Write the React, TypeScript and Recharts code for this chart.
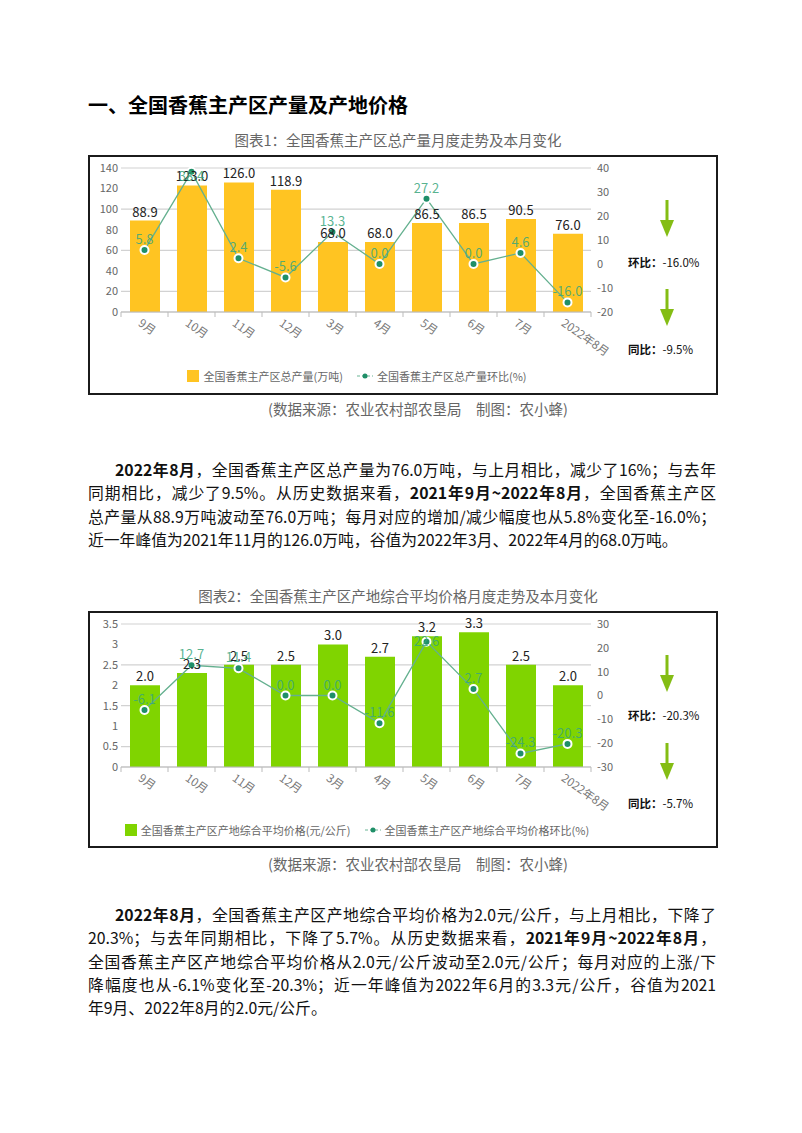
import React from "react";
import {
  ComposedChart,
  Bar,
  Line,
  XAxis,
  YAxis,
  CartesianGrid,
  LabelList,
  Legend,
} from "recharts";

// 月份（2021年9月 ~ 2022年8月，缺1、2月）
const months = ["9月", "10月", "11月", "12月", "3月", "4月", "5月", "6月", "7月", "2022年8月"];

// 图表1：总产量（万吨）与环比（%）
const outputVolume = [88.9, 123.0, 126.0, 118.9, 68.0, 68.0, 86.5, 86.5, 90.5, 76.0];
const outputMoM = [5.8, 38.4, 2.4, -5.6, 13.3, 0.0, 27.2, 0.0, 4.6, -16.0];
const outputTicksLeft = [0, 20, 40, 60, 80, 100, 120, 140];
const outputTicksRight = [-20, -10, 0, 10, 20, 30, 40];

// 图表2：产地综合平均价格（元/公斤）与环比（%）
const priceValue = [2.0, 2.3, 2.5, 2.5, 3.0, 2.7, 3.2, 3.3, 2.5, 2.0];
const priceMoM = [-6.1, 12.7, 11.4, 0.0, 0.0, -11.6, 22.6, 2.7, -24.3, -20.3];
const priceTicksLeft = [0, 0.5, 1, 1.5, 2, 2.5, 3, 3.5];
const priceTicksRight = [-30, -20, -10, 0, 10, 20, 30];

const FONT = '"Noto Sans CJK SC", "Noto Sans", sans-serif';
const CHART_W = 540;
const MARGIN = { top: 13, right: 5, left: 3, bottom: 3 };
const LEFT_AXIS_W = 30;
const RIGHT_AXIS_W = 32;
const HALF_BAND =
  (CHART_W - MARGIN.left - MARGIN.right - LEFT_AXIS_W - RIGHT_AXIS_W) / months.length / 2;

const MonthTick = (props: any) => {
  const { x, y, payload, index } = props;
  const last = index === months.length - 1;
  return (
    <g>
      <line x1={x - HALF_BAND} y1={y} x2={x - HALF_BAND} y2={y + 5} stroke="#bbb" />
      {last && <line x1={x + HALF_BAND} y1={y} x2={x + HALF_BAND} y2={y + 5} stroke="#bbb" />}
      <g transform={`translate(${x - 7},${y + 13}) rotate(35)`}>
        <text x={0} y={0} textAnchor="start" fontSize={11.5} fill="#777" fontFamily={FONT}>
          {payload.value}
        </text>
      </g>
    </g>
  );
};

// 折线标签：放在点上方，靠近顶部时下压以免被裁切
const makeRateLabel = (minY: number) => (props: any) => {
  const { x, y, value } = props;
  const by = Math.max(y - 6, minY);
  return (
    <text
      x={x}
      y={by}
      textAnchor="middle"
      fill="#3aa67c"
      fillOpacity={0.85}
      fontSize={13}
      fontFamily={FONT}
    >
      {Number(value).toFixed(1)}
    </text>
  );
};

const LegendContent = (props: any) => {
  const items = props.payload || [];
  return (
    <div
      style={{
        display: "flex",
        justifyContent: "center",
        alignItems: "center",
        height: 16,
        fontSize: 11,
        color: "#666",
        fontFamily: FONT,
      }}
    >
      {items.map((it: any, i: number) => (
        <div key={i} style={{ display: "flex", alignItems: "center", marginLeft: i ? 14 : 0 }}>
          {it.type === "rect" ? (
            <span style={{ width: 12, height: 12, background: it.color, marginRight: 4 }} />
          ) : (
            <svg width={16} height={10} style={{ marginRight: 4 }}>
              <line x1={0} y1={5} x2={16} y2={5} stroke="#6db595" strokeWidth={1.2} strokeDasharray="3 2" />
              <circle cx={8} cy={5} r={2.5} fill="#1f8f68" />
            </svg>
          )}
          <span style={{ lineHeight: "16px" }}>{it.value}</span>
        </div>
      ))}
    </div>
  );
};

interface ComboProps {
  bars: number[];
  rates: number[];
  barName: string;
  rateName: string;
  barColor: string;
  leftTicks: number[];
  rightTicks: number[];
  height: number;
  xHeight: number;
  labelMinY: number;
}

function ComboChart({
  bars,
  rates,
  barName,
  rateName,
  barColor,
  leftTicks,
  rightTicks,
  height,
  xHeight,
  labelMinY,
}: ComboProps) {
  const data = months.map((m, i) => ({ month: m, bar: bars[i], rate: rates[i] }));
  return (
    <ComposedChart width={CHART_W} height={height} data={data} margin={MARGIN}>
      <CartesianGrid yAxisId="left" vertical={false} stroke="#d2d2d2" strokeWidth={1.2} />
      <XAxis
        dataKey="month"
        interval={0}
        height={xHeight}
        tickSize={0}
        tickMargin={0}
        tickLine={false}
        axisLine={{ stroke: "#bbb" }}
        tick={<MonthTick />}
      />
      <YAxis
        yAxisId="left"
        width={LEFT_AXIS_W}
        domain={[leftTicks[0], leftTicks[leftTicks.length - 1]]}
        ticks={leftTicks}
        axisLine={false}
        tickLine={false}
        tickSize={0}
        tickMargin={3}
        tick={{ fill: "#666", fontSize: 11, fontFamily: FONT }}
      />
      <YAxis
        yAxisId="right"
        orientation="right"
        width={RIGHT_AXIS_W}
        domain={[rightTicks[0], rightTicks[rightTicks.length - 1]]}
        ticks={rightTicks}
        axisLine={false}
        tickLine={false}
        tickSize={0}
        tickMargin={6}
        tick={{ fill: "#666", fontSize: 11, fontFamily: FONT, textAnchor: "start" }}
      />
      <Legend verticalAlign="bottom" content={<LegendContent />} />
      <Bar
        yAxisId="left"
        dataKey="bar"
        name={barName}
        fill={barColor}
        barSize={30}
        legendType="rect"
        isAnimationActive={false}
      >
        <LabelList
          dataKey="bar"
          position="top"
          offset={4}
          fill="#222"
          fontSize={13}
          fontFamily={FONT}
          formatter={(v: any) => Number(v).toFixed(1)}
        />
      </Bar>
      <Line
        yAxisId="right"
        dataKey="rate"
        name={rateName}
        type="linear"
        stroke="#64b08f"
        strokeWidth={1.3}
        dot={{ r: 4, fill: "#1f8f68", stroke: "#fff", strokeWidth: 2 }}
        legendType="line"
        isAnimationActive={false}
      >
        <LabelList dataKey="rate" content={makeRateLabel(labelMinY)} />
      </Line>
    </ComposedChart>
  );
}

const Arrow = ({ left, top }: { left: number; top: number }) => (
  <svg width={16} height={37} style={{ position: "absolute", left, top }}>
    <rect x={6.5} y={0} width={3} height={22} fill="#84bd14" />
    <polygon points="1,20 15,20 8,37" fill="#84bd14" />
  </svg>
);

const Note = ({ top, label, value }: { top: number; label: string; value: string }) => (
  <div
    style={{
      position: "absolute",
      left: 628,
      top,
      lineHeight: "16px",
      fontSize: 11.5,
      color: "#111",
      whiteSpace: "nowrap",
    }}
  >
    <span style={{ fontWeight: 600 }}>{label}</span>
    {value}
  </div>
);

const boxStyle = (top: number, height: number): React.CSSProperties => ({
  position: "absolute",
  left: 88,
  top,
  width: 630,
  height,
  border: "2px solid #1b1b1b",
  boxSizing: "border-box",
});

const para1 = [
  <>
    <b>2022年8月</b>，全国香蕉主产区总产量为76.0万吨，与上月相比，减少了16%；与去年
  </>,
  <>
    同期相比，减少了9.5%。从历史数据来看，<b>2021年9月~2022年8月</b>，全国香蕉主产区
  </>,
  <>总产量从88.9万吨波动至76.0万吨；每月对应的增加/减少幅度也从5.8%变化至-16.0%；</>,
  <>近一年峰值为2021年11月的126.0万吨，谷值为2022年3月、2022年4月的68.0万吨。</>,
];

const para2 = [
  <>
    <b>2022年8月</b>，全国香蕉主产区产地综合平均价格为2.0元/公斤，与上月相比，下降了
  </>,
  <>
    20.3%；与去年同期相比，下降了5.7%。从历史数据来看，<b>2021年9月~2022年8月</b>，
  </>,
  <>全国香蕉主产区产地综合平均价格从2.0元/公斤波动至2.0元/公斤；每月对应的上涨/下</>,
  <>降幅度也从-6.1%变化至-20.3%；近一年峰值为2022年6月的3.3元/公斤，谷值为2021</>,
  <>年9月、2022年8月的2.0元/公斤。</>,
];

const Paragraph = ({ top, lines }: { top: number; lines: React.ReactNode[] }) => (
  <div
    style={{
      position: "absolute",
      left: 88,
      top,
      width: 628,
      fontSize: 15.8,
      color: "#111",
    }}
  >
    {lines.map((l, i) => {
      const last = i === lines.length - 1;
      return (
        <div
          key={i}
          style={{
            textAlign: "justify",
            textAlignLast: last ? "left" : "justify",
            whiteSpace: "nowrap",
            height: 23.3,
            lineHeight: "23.3px",
            paddingLeft: i === 0 ? 27 : 0,
          }}
        >
          {l}
        </div>
      );
    })}
  </div>
);

const captionStyle = (top: number, center: number): React.CSSProperties => ({
  position: "absolute",
  top,
  left: center - 300,
  width: 600,
  textAlign: "center",
  fontSize: 14.5,
  lineHeight: "20px",
  color: "#666",
  whiteSpace: "nowrap",
});

export default function App() {
  return (
    <div
      style={{
        position: "absolute",
        left: 0,
        top: 0,
        width: 802,
        height: 1133,
        background: "#fff",
        fontFamily: FONT,
        overflow: "hidden",
      }}
    >
      <div
        style={{
          position: "absolute",
          left: 88,
          top: 93,
          fontSize: 20,
          fontWeight: 700,
          lineHeight: "24px",
          color: "#000",
        }}
      >
        一、全国香蕉主产区产量及产地价格
      </div>

      <div style={captionStyle(130, 398)}>图表1：全国香蕉主产区总产量月度走势及本月变化</div>
      <div style={boxStyle(155, 240)} />
      <div style={{ position: "absolute", left: 88, top: 155 }}>
        <ComboChart
          bars={outputVolume}
          rates={outputMoM}
          barName="全国香蕉主产区总产量(万吨)"
          rateName="全国香蕉主产区总产量环比(%)"
          barColor="#ffc422"
          leftTicks={outputTicksLeft}
          rightTicks={outputTicksRight}
          height={232}
          xHeight={56}
          labelMinY={26}
        />
      </div>
      <Arrow left={659} top={200} />
      <Note top={254} label="环比：" value="-16.0%" />
      <Arrow left={659} top={289} />
      <Note top={341} label="同比：" value="-9.5%" />
      <div style={captionStyle(399, 418)}>(数据来源：农业农村部农垦局　制图：农小蜂)</div>

      <Paragraph top={458} lines={para1} />

      <div style={captionStyle(586, 398)}>图表2：全国香蕉主产区产地综合平均价格月度走势及本月变化</div>
      <div style={boxStyle(611, 237)} />
      <div style={{ position: "absolute", left: 88, top: 611 }}>
        <ComboChart
          bars={priceValue}
          rates={priceMoM}
          barName="全国香蕉主产区产地综合平均价格(元/公斤)"
          rateName="全国香蕉主产区产地综合平均价格环比(%)"
          barColor="#80d400"
          leftTicks={priceTicksLeft}
          rightTicks={priceTicksRight}
          height={230}
          xHeight={55}
          labelMinY={35}
        />
      </div>
      <Arrow left={659} top={655} />
      <Note top={707} label="环比：" value="-20.3%" />
      <Arrow left={659} top={743} />
      <Note top={795} label="同比：" value="-5.7%" />
      <div style={captionStyle(854, 418)}>(数据来源：农业农村部农垦局　制图：农小蜂)</div>

      <Paragraph top={903} lines={para2} />
    </div>
  );
}
